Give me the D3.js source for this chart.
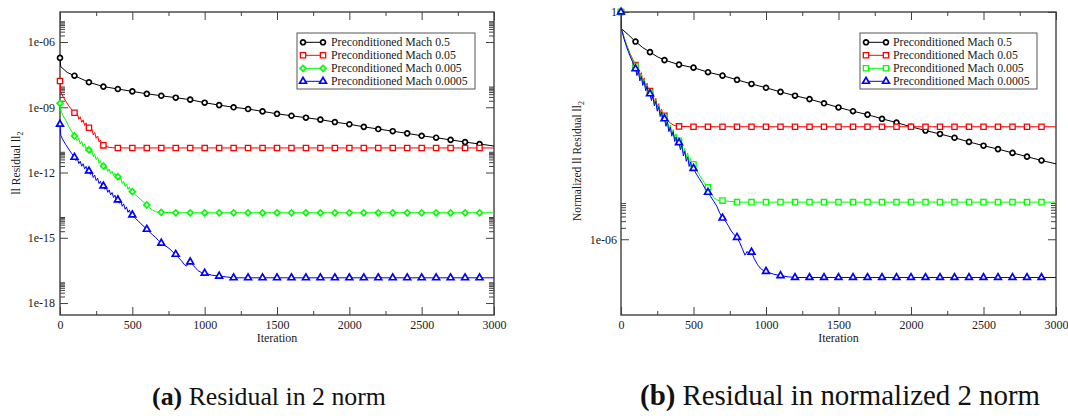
<!DOCTYPE html>
<html>
<head>
<meta charset="utf-8">
<script src="https://cdn.jsdelivr.net/npm/d3@7"></script>
<style>
  body { margin: 0; background: #fff; }
  svg { display: block; }
</style>
</head>
<body>
<svg id="fig" width="1068" height="419"></svg>
<script>
// ---------------------------------------------------------------------------
// Data: residual history of the preconditioned solver (log10 of the residual)
// ---------------------------------------------------------------------------
const seriesNames = [
  "Preconditioned Mach 0.5",
  "Preconditioned Mach 0.05",
  "Preconditioned Mach 0.005",
  "Preconditioned Mach 0.0005"
];

// iterations of the sampled (marked) points
const iterations = [0, 100, 200, 300, 400, 500, 600, 700, 800, 900, 1000,
  1100, 1200, 1300, 1400, 1500, 1600, 1700, 1800, 1900, 2000,
  2100, 2200, 2300, 2400, 2500, 2600, 2700, 2800, 2900, 3000];

const xTickValues = [0, 500, 1000, 1500, 2000, 2500, 3000];
const xTickLabels = ["0", "500", "1000", "1500", "2000", "2500", "3000"];
const xMinorTicks = [250, 750, 1250, 1750, 2250, 2750];

const yTicksAbs = [1e-6, 1e-9, 1e-12, 1e-15, 1e-18];
const yTickLabelsAbs = ["1e-06", "1e-09", "1e-12", "1e-15", "1e-18"];
const yTicksNorm = [1, 1e-6];
const yTickLabelsNorm = ["1", "1e-06"];
const minorMultipliers = [2, 3, 4, 5, 6, 7, 8, 9];

// (a) residual in 2 norm, log10 values at each entry of `iterations`
const absMach0_5 = [-6.73, -7.55, -7.85, -8.05, -8.16, -8.27, -8.38, -8.47, -8.56, -8.65, -8.79,
  -8.90, -9.00, -9.08, -9.19, -9.30, -9.39, -9.48, -9.57, -9.68, -9.78,
  -9.90, -10.00, -10.10, -10.20, -10.31, -10.40, -10.50, -10.60, -10.69, -10.78];
const absMach0_05 = [-7.79, -9.25, -9.94, -10.75, -10.87, -10.87, -10.87, -10.87, -10.87, -10.87, -10.87,
  -10.87, -10.87, -10.87, -10.87, -10.87, -10.87, -10.87, -10.87, -10.87, -10.87,
  -10.87, -10.87, -10.87, -10.87, -10.87, -10.87, -10.87, -10.87, -10.87, -10.87];
const absMach0_005 = [-8.82, -10.32, -10.96, -11.70, -12.19, -12.88, -13.49, -13.83, -13.85, -13.85, -13.85,
  -13.85, -13.85, -13.85, -13.85, -13.85, -13.85, -13.85, -13.85, -13.85, -13.85,
  -13.85, -13.85, -13.85, -13.85, -13.85, -13.85, -13.85, -13.85, -13.85, -13.85];
const absMach0_0005 = [-9.78, -11.30, -11.93, -12.62, -13.26, -13.95, -14.61, -15.25, -15.76, -16.11, -16.63,
  -16.76, -16.84, -16.84, -16.84, -16.84, -16.84, -16.84, -16.84, -16.84, -16.84,
  -16.84, -16.84, -16.84, -16.84, -16.84, -16.84, -16.84, -16.84, -16.84, -16.84];

// intermediate iterations [iteration, log10 residual] between the marked samples
const absMach0_5Detail = [[5, -7.13], [50, -7.40]];
const absMach0_05Detail = [[5, -8.28], [20, -8.50], [40, -8.72], [60, -8.93], [80, -9.10],
  [110, -9.40], [120, -9.30], [130, -9.55], [140, -9.44], [150, -9.69], [160, -9.58], [170, -9.83], [180, -9.72], [190, -9.95],
  [210, -10.10], [220, -10.00], [230, -10.27], [240, -10.16], [250, -10.43], [260, -10.32], [270, -10.59], [280, -10.50], [290, -10.72],
  [320, -10.80], [340, -10.84], [360, -10.86], [380, -10.87]];
const absMach0_005Detail = [[5, -9.13], [20, -9.38], [40, -9.60], [60, -9.88], [80, -10.10],
  [120, -10.55], [130, -10.42], [140, -10.69], [150, -10.56], [160, -10.81], [170, -10.68], [180, -10.93], [190, -10.82],
  [210, -11.11], [220, -11.00], [230, -11.27], [240, -11.16], [250, -11.41], [260, -11.30], [270, -11.57], [280, -11.46], [290, -11.69],
  [310, -11.85], [320, -11.74], [330, -11.95], [340, -11.84], [350, -12.05], [360, -11.94], [370, -12.15], [380, -12.04], [390, -12.23],
  [410, -12.35], [420, -12.26], [430, -12.51], [440, -12.40], [450, -12.63], [460, -12.52], [470, -12.77], [480, -12.66], [490, -12.89],
  [520, -13.02], [540, -13.12], [560, -13.26], [580, -13.38],
  [620, -13.62], [640, -13.72], [660, -13.80], [680, -13.83]];
const absMach0_0005Detail = [[5, -10.28], [20, -10.50], [40, -10.72], [60, -10.92], [80, -11.12],
  [110, -11.45], [120, -11.36], [130, -11.59], [140, -11.48], [150, -11.71], [160, -11.60], [170, -11.83], [180, -11.72], [190, -11.93],
  [210, -12.09], [220, -12.00], [230, -12.23], [240, -12.12], [250, -12.37], [260, -12.26], [270, -12.51], [280, -12.40], [290, -12.63],
  [310, -12.77], [320, -12.68], [330, -12.91], [340, -12.80], [350, -13.03], [360, -12.92], [370, -13.15], [380, -13.04], [390, -13.27],
  [410, -13.41], [420, -13.32], [430, -13.55], [440, -13.44], [450, -13.69], [460, -13.58], [470, -13.83], [480, -13.72], [490, -13.95],
  [520, -14.10], [540, -14.22], [560, -14.36], [580, -14.48],
  [620, -14.74], [640, -14.86], [660, -14.98], [680, -15.12],
  [720, -15.34], [740, -15.42], [760, -15.52], [780, -15.66],
  [820, -15.92], [840, -16.06], [860, -16.24], [875, -16.30], [890, -16.14],
  [920, -16.26], [940, -16.42], [960, -16.54], [980, -16.60],
  [1050, -16.72], [1150, -16.80]];

// (b) residual in normalized 2 norm, log10 values at each entry of `iterations`
const normMach0_5 = [0, -0.78, -1.06, -1.27, -1.39, -1.47, -1.59, -1.68, -1.79, -1.90, -2.00,
  -2.11, -2.21, -2.30, -2.41, -2.52, -2.62, -2.71, -2.82, -2.92, -3.03,
  -3.13, -3.22, -3.32, -3.43, -3.53, -3.62, -3.72, -3.82, -3.92, -4.01];
const normMach0_05 = [0, -1.40, -2.09, -2.74, -3.02, -3.03, -3.03, -3.03, -3.03, -3.03, -3.03,
  -3.03, -3.03, -3.03, -3.03, -3.03, -3.03, -3.03, -3.03, -3.03, -3.03,
  -3.03, -3.03, -3.03, -3.03, -3.03, -3.03, -3.03, -3.03, -3.03, -3.03];
const normMach0_005 = [0, -1.43, -2.13, -2.79, -3.40, -4.02, -4.63, -4.98, -5.02, -5.02, -5.02,
  -5.02, -5.02, -5.02, -5.02, -5.02, -5.02, -5.02, -5.02, -5.02, -5.02,
  -5.02, -5.02, -5.02, -5.02, -5.02, -5.02, -5.02, -5.02, -5.02, -5.02];
const normMach0_0005 = [0, -1.50, -2.16, -2.82, -3.45, -4.13, -4.76, -5.44, -5.95, -6.34, -6.85,
  -6.96, -7.01, -7.01, -7.01, -7.01, -7.01, -7.01, -7.01, -7.01, -7.01,
  -7.01, -7.01, -7.01, -7.01, -7.01, -7.01, -7.01, -7.01, -7.01, -7.01];

const normMach0_5Detail = [[3, -0.44], [50, -0.60], [150, -0.94], [250, -1.18]];
const normMach0_05Detail = [[3, -0.44], [20, -0.66], [40, -0.88], [60, -1.08], [80, -1.24],
  [110, -1.58], [120, -1.46], [130, -1.72], [140, -1.60], [150, -1.86], [160, -1.74], [170, -2.00], [180, -1.88], [190, -2.10],
  [210, -2.26], [220, -2.16], [230, -2.40], [240, -2.28], [250, -2.52], [260, -2.42], [270, -2.66], [280, -2.56], [290, -2.74],
  [320, -2.86], [340, -2.93], [360, -2.98], [380, -3.01]];
const normMach0_005Detail = [[3, -0.44], [20, -0.67], [40, -0.90], [60, -1.10], [80, -1.27],
  [110, -1.62], [120, -1.50], [130, -1.76], [140, -1.64], [150, -1.90], [160, -1.78], [170, -2.04], [180, -1.92], [190, -2.14],
  [210, -2.30], [220, -2.20], [230, -2.44], [240, -2.32], [250, -2.58], [260, -2.46], [270, -2.72], [280, -2.60], [290, -2.82],
  [310, -2.96], [320, -2.86], [330, -3.10], [340, -2.98], [350, -3.22], [360, -3.10], [370, -3.34], [380, -3.22], [390, -3.42],
  [410, -3.58], [420, -3.46], [430, -3.72], [440, -3.60], [450, -3.84], [460, -3.72], [470, -3.98], [480, -3.86], [490, -4.04],
  [520, -4.16], [540, -4.30], [560, -4.42], [580, -4.54],
  [620, -4.78], [640, -4.90], [660, -4.96], [680, -4.98], [750, -5.00]];
const normMach0_0005Detail = [[3, -0.44], [20, -0.70], [40, -0.94], [60, -1.14], [80, -1.32],
  [110, -1.68], [120, -1.56], [130, -1.82], [140, -1.70], [150, -1.94], [160, -1.82], [170, -2.08], [180, -1.96], [190, -2.18],
  [210, -2.34], [220, -2.22], [230, -2.48], [240, -2.36], [250, -2.62], [260, -2.50], [270, -2.76], [280, -2.64], [290, -2.86],
  [310, -3.02], [320, -2.90], [330, -3.16], [340, -3.04], [350, -3.28], [360, -3.16], [370, -3.42], [380, -3.30], [390, -3.50],
  [410, -3.64], [420, -3.52], [430, -3.80], [440, -3.68], [450, -3.94], [460, -3.82], [470, -4.08], [480, -3.96], [490, -4.16],
  [520, -4.28], [540, -4.40], [560, -4.52], [580, -4.66],
  [620, -4.88], [640, -5.00], [660, -5.12], [680, -5.30],
  [720, -5.52], [740, -5.64], [760, -5.78], [780, -5.88],
  [820, -6.10], [840, -6.28], [855, -6.42], [870, -6.32], [885, -6.40],
  [920, -6.52], [940, -6.66], [960, -6.76], [980, -6.82],
  [1050, -6.92], [1150, -6.99]];

// ---------------------------------------------------------------------------
// Helpers
// ---------------------------------------------------------------------------
const colors = ["#000000", "#ff0000", "#00ff00", "#0000ff"];
const frameColor = "#404040";
const serif = "'Liberation Serif', 'Times New Roman', serif";

function buildSeries(coarse, detail) {
  const pts = iterations.map((it, i) => ({ it, v: Math.pow(10, coarse[i]), marker: it < 3000 }));
  detail.forEach(([it, e]) => pts.push({ it, v: Math.pow(10, e), marker: false }));
  pts.sort((a, b) => a.it - b.it);
  return pts;
}

function symbolPath(kind) {
  switch (kind) {
    case "circle": return d3.symbol(d3.symbolCircle, 19)();
    case "square": return d3.symbol(d3.symbolSquare, 28)();
    case "diamond": return d3.symbol(d3.symbolSquare, 17)();
    case "triangle": return d3.symbol(d3.symbolTriangle, 20)();
  }
}

function drawSymbol(g, kind, cx, cy, color) {
  g.append("path")
    .attr("d", symbolPath(kind))
    .attr("transform", `translate(${cx},${cy})` + (kind === "diamond" ? " rotate(45)" : ""))
    .attr("fill", "#ffffff")
    .attr("stroke", color)
    .attr("stroke-width", kind === "square" ? 1.3 : 1.7);
}

function serifText(sel, size) {
  return sel.style("font-family", serif).style("font-size", size + "px").attr("fill", "#1a1a1a");
}

const svg = d3.select("#fig");
svg.append("rect").attr("width", 1068).attr("height", 419).attr("fill", "#fff");

function drawPanel(p) {
  const g = svg.append("g");
  const x = d3.scaleLinear().domain([0, 3000]).range([p.left, p.right]);
  const y = d3.scaleLog().domain(p.yDomain).range([p.bottom, p.top]);

  const styleAxis = sel => {
    sel.attr("font-family", null);
    sel.select(".domain").remove();
    sel.selectAll(".tick line").attr("stroke", frameColor).attr("stroke-width", 1);
    serifText(sel.selectAll("text"), 12);
  };
  const yMinor = p.yTicks.flatMap(m => minorMultipliers.map(k => k * m))
    .filter(v => v > p.yDomain[0] && v < p.yDomain[1]);

  // major and minor ticks on all four sides (pointing inward)
  g.append("g").attr("transform", `translate(0,${p.bottom})`)
    .call(d3.axisBottom(x).tickValues(xTickValues).tickFormat((d, i) => xTickLabels[i])
      .tickSizeInner(-8).tickSizeOuter(0).tickPadding(5)).call(styleAxis);
  g.append("g").attr("transform", `translate(0,${p.bottom})`)
    .call(d3.axisBottom(x).tickValues(xMinorTicks).tickFormat("").tickSizeInner(-4).tickSizeOuter(0)).call(styleAxis);
  g.append("g").attr("transform", `translate(0,${p.top})`)
    .call(d3.axisTop(x).tickValues(xTickValues).tickFormat("").tickSizeInner(-8).tickSizeOuter(0)).call(styleAxis);
  g.append("g").attr("transform", `translate(0,${p.top})`)
    .call(d3.axisTop(x).tickValues(xMinorTicks).tickFormat("").tickSizeInner(-4).tickSizeOuter(0)).call(styleAxis);

  g.append("g").attr("transform", `translate(${p.left},0)`)
    .call(d3.axisLeft(y).tickValues(p.yTicks).tickFormat((d, i) => p.yLabels[i])
      .tickSizeInner(-8).tickSizeOuter(0).tickPadding(p.yPad)).call(styleAxis);
  g.append("g").attr("transform", `translate(${p.left},0)`)
    .call(d3.axisLeft(y).tickValues(yMinor).tickFormat("").tickSizeInner(-5).tickSizeOuter(0)).call(styleAxis);
  g.append("g").attr("transform", `translate(${p.right},0)`)
    .call(d3.axisRight(y).tickValues(p.yTicks).tickFormat("").tickSizeInner(-8).tickSizeOuter(0)).call(styleAxis);
  g.append("g").attr("transform", `translate(${p.right},0)`)
    .call(d3.axisRight(y).tickValues(yMinor).tickFormat("").tickSizeInner(-5).tickSizeOuter(0)).call(styleAxis);

  // frame
  g.append("rect").attr("x", p.left).attr("y", p.top)
    .attr("width", p.right - p.left).attr("height", p.bottom - p.top)
    .attr("fill", "none").attr("stroke", frameColor).attr("stroke-width", 1.4);

  // clip for the curves
  const clipId = "clip-" + p.id;
  svg.append("clipPath").attr("id", clipId).append("rect")
    .attr("x", p.left).attr("y", p.top).attr("width", p.right - p.left).attr("height", p.bottom - p.top);

  const line = d3.line().x(d => x(d.it)).y(d => y(d.v));
  p.series.forEach((pts, si) => {
    g.append("path").datum(pts).attr("d", line)
      .attr("fill", "none").attr("stroke", colors[si]).attr("stroke-width", 1)
      .attr("stroke-linejoin", "round").attr("clip-path", `url(#${clipId})`);
    const mg = g.append("g");
    pts.filter(d => d.marker).forEach(d => drawSymbol(mg, p.symbols[si], x(d.it), y(d.v), colors[si]));
  });

  // legend
  const lg = g.append("g");
  lg.append("rect").attr("x", p.legend.x0).attr("y", p.legend.y0)
    .attr("width", p.legend.x1 - p.legend.x0).attr("height", p.legend.y1 - p.legend.y0)
    .attr("fill", "#fff").attr("stroke", "#555").attr("stroke-width", 1);
  seriesNames.forEach((name, i) => {
    const cy = p.legend.rows[i];
    lg.append("line").attr("x1", p.legend.s0).attr("x2", p.legend.s1).attr("y1", cy).attr("y2", cy)
      .attr("stroke", colors[i]).attr("stroke-width", 1);
    drawSymbol(lg, p.symbols[i], p.legend.s0, cy, colors[i]);
    drawSymbol(lg, p.symbols[i], p.legend.s1, cy, colors[i]);
    serifText(lg.append("text").attr("x", p.legend.tx).attr("y", cy + 4), 11.8).text(name);
  });

  // axis titles
  serifText(g.append("text").attr("x", (p.left + p.right) / 2).attr("y", 342)
    .attr("text-anchor", "middle"), 12).text("Iteration");
  const yt = serifText(g.append("text").attr("transform", `translate(${p.yTitleX},${p.yTitleY}) rotate(-90)`)
    .attr("text-anchor", "middle"), 11.5);
  yt.append("tspan").text(p.yTitle);
  yt.append("tspan").attr("dy", 3).style("font-size", "8px").text("2");
}

drawPanel({
  id: "abs", left: 60, right: 494, top: 12, bottom: 315,
  yDomain: [Math.pow(10, -18.55), Math.pow(10, -4.62)],
  yTicks: yTicksAbs, yLabels: yTickLabelsAbs, yPad: 5,
  symbols: ["circle", "square", "diamond", "triangle"],
  series: [buildSeries(absMach0_5, absMach0_5Detail), buildSeries(absMach0_05, absMach0_05Detail),
           buildSeries(absMach0_005, absMach0_005Detail), buildSeries(absMach0_0005, absMach0_0005Detail)],
  legend: { x0: 297, x1: 475, y0: 33, y1: 89, s0: 303, s1: 323, tx: 331, rows: [42.3, 55.3, 68.3, 81.3] },
  yTitle: "ll Residual ll", yTitleX: 20, yTitleY: 163
});

drawPanel({
  id: "norm", left: 621, right: 1056, top: 12, bottom: 315,
  yDomain: [1e-8, 1],
  yTicks: yTicksNorm, yLabels: yTickLabelsNorm, yPad: 4,
  symbols: ["circle", "square", "square", "triangle"],
  series: [buildSeries(normMach0_5, normMach0_5Detail), buildSeries(normMach0_05, normMach0_05Detail),
           buildSeries(normMach0_005, normMach0_005Detail), buildSeries(normMach0_0005, normMach0_0005Detail)],
  legend: { x0: 860, x1: 1037, y0: 33, y1: 89, s0: 866, s1: 886, tx: 893, rows: [42.3, 55.3, 68.3, 81.3] },
  yTitle: "Normalized ll Residual ll", yTitleX: 581, yTitleY: 161
});

// sub-figure captions, font scaled so each spans the given width
function caption(cx, tag, body, width) {
  const t = svg.append("text").attr("x", cx).attr("y", 405).attr("text-anchor", "middle")
    .style("font-family", serif).style("font-size", "22px").attr("fill", "#111");
  t.append("tspan").style("font-weight", "bold").text(tag);
  t.append("tspan").text(" " + body);
  const natural = t.node().getComputedTextLength();
  t.style("font-size", (22 * width / natural) + "px");
}
caption(269, "(a)", "Residual in 2 norm", 234);
caption(840, "(b)", "Residual in normalized 2 norm", 400);
</script>
</body>
</html>
